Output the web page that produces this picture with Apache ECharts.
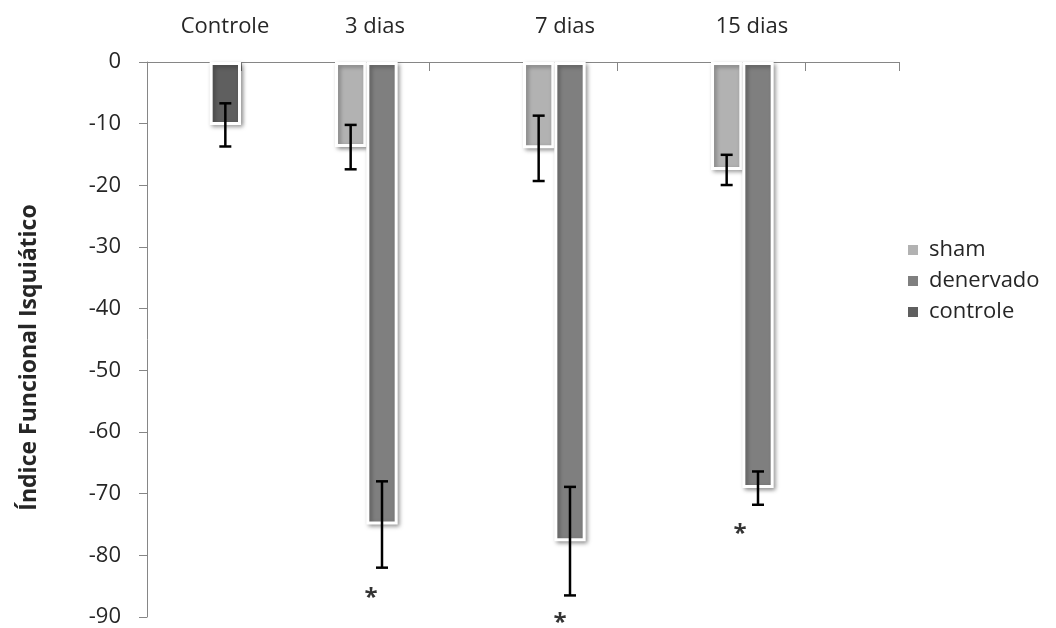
<!DOCTYPE html>
<html>
<head>
<meta charset="utf-8">
<script src="https://cdn.jsdelivr.net/npm/echarts@6/dist/echarts.min.js"></script>
<style>
html,body{margin:0;padding:0;background:#fff;}
#chart{width:1056px;height:628px;}
</style>
</head>
<body>
<div id="chart"></div>
<script>
// ---- data ----
var categories = ['Controle', '', '3 dias', '', '7 dias', '', '15 dias', ''];
var sham        = [null, null, -13.8, null, -14.0, null, -17.5, null];
var shamSD      = [null, null, 3.6, null, 5.3, null, 2.45, null];
var denervado   = [null, null, -75.0, null, -77.7, null, -69.1, null];
var denervadoSD = [null, null, 7.0, null, 8.8, null, 2.7, null];
var controle    = [-10.2, null, null, null, null, null, null, null];
var controleSD  = [3.5, null, null, null, null, null, null, null];
var asteriskY   = [null, null, -86.0, null, -90.0, null, -75.6, null];
var yTicks = [0, -10, -20, -30, -40, -50, -60, -70, -80, -90];

var FONT = 'Open Sans';
var TXT = '#262626';
var AXIS = '#868686';

// label offsets so the category names sit where the reference has them
var labelShift = [31, 0, -7, 0, -5, 0, -6, 0];
var catData = categories.map(function (c, i) {
  var s = labelShift[i];
  return {
    value: c,
    textStyle: { padding: s >= 0 ? [0, 0, 0, 2 * s] : [0, -2 * s, 0, 0] }
  };
});

// error-bar data: [category index, mean, sd, slot]
function errData(vals, sds, slot) {
  var out = [];
  vals.forEach(function (v, i) {
    if (v !== null) out.push([i, v, sds[i], slot]);
  });
  return out;
}
var errAll = errData(sham, shamSD, 0)
  .concat(errData(denervado, denervadoSD, 1))
  .concat(errData(controle, controleSD, 2));

var asteriskOffsetX = [0, 0, -11, 0, -10, 0, -18, 0];
var asteriskData = [];
asteriskY.forEach(function (v, i) {
  if (v !== null) asteriskData.push({ value: [i, v], label: { offset: [asteriskOffsetX[i], 6] } });
});

var barStyle = function (color) {
  return {
    color: color,
    borderColor: '#ffffff',
    borderWidth: 3,
    shadowColor: 'rgba(0,0,0,0.35)',
    shadowBlur: 4,
    shadowOffsetX: 2,
    shadowOffsetY: 2
  };
};

var chart = echarts.init(document.getElementById('chart'), null, { renderer: 'canvas' });
chart.setOption({
  animation: false,
  backgroundColor: '#ffffff',
  textStyle: { fontFamily: FONT },
  grid: { left: 147, right: 157, top: 62, bottom: 10, containLabel: false },
  legend: {
    data: ['sham', 'denervado', 'controle'],
    orient: 'vertical',
    left: 901,
    top: 234,
    icon: 'rect',
    itemWidth: 12,
    itemHeight: 12,
    itemGap: 9,
    textStyle: { fontFamily: FONT, fontSize: 22, color: TXT, padding: [0, 0, 0, 5] }
  },
  xAxis: {
    type: 'category',
    position: 'top',
    data: catData,
    boundaryGap: true,
    axisLine: { show: true, onZero: false, lineStyle: { color: AXIS, width: 1 } },
    axisTick: { show: true, inside: true, length: 9, interval: 0, lineStyle: { color: AXIS } },
    axisLabel: { interval: 0, margin: 24, fontFamily: FONT, fontSize: 22, color: TXT },
    splitLine: { show: false }
  },
  yAxis: {
    type: 'value',
    min: -90,
    max: 0,
    interval: 10,
    axisLine: { show: true, lineStyle: { color: AXIS, width: 1 } },
    axisTick: { show: true, length: 8, lineStyle: { color: AXIS } },
    axisLabel: {
      margin: 26, fontFamily: FONT, fontSize: 22, color: TXT,
      formatter: function (v) { return yTicks.indexOf(v) >= 0 ? String(v) : ''; }
    },
    splitLine: { show: false },
    name: 'Índice Funcional Isquiático',
    nameLocation: 'middle',
    nameRotate: 90,
    nameGap: 106,
    nameTextStyle: { fontFamily: FONT, fontSize: 23, fontWeight: 'bold', color: TXT, padding: [0, 36, 0, 0] }
  },
  series: [
    { name: 'sham', type: 'bar', data: sham, barGap: '0%', barCategoryGap: '0%', itemStyle: barStyle('#b2b2b2'), z: 2 },
    { name: 'denervado', type: 'bar', data: denervado, barGap: '0%', barCategoryGap: '0%', itemStyle: barStyle('#7f7f7f'), z: 2 },
    { name: 'controle', type: 'bar', data: controle, barGap: '0%', barCategoryGap: '0%', itemStyle: barStyle('#5f5f5f'), z: 2 },
    {
      name: 'err', type: 'custom', data: errAll, z: 10, silent: true,
      renderItem: function (params, api) {
        var cat = api.value(0), mean = api.value(1), sd = api.value(2), slot = api.value(3);
        var c = api.coord([cat, mean]);
        var bandW = api.size([1, 0])[0];
        var x = c[0] + (slot - 1) * bandW / 3;
        var yTop = api.coord([cat, mean + sd])[1];
        var yBot = api.coord([cat, mean - sd])[1];
        var hw = 6;
        var st = { stroke: '#000', lineWidth: 2.5 };
        return {
          type: 'group',
          children: [
            { type: 'line', shape: { x1: x, y1: yTop, x2: x, y2: yBot }, style: st },
            { type: 'line', shape: { x1: x - hw, y1: yTop, x2: x + hw, y2: yTop }, style: st },
            { type: 'line', shape: { x1: x - hw, y1: yBot, x2: x + hw, y2: yBot }, style: st }
          ]
        };
      }
    },
    {
      name: 'asterisk', type: 'scatter', data: asteriskData, symbolSize: 0, z: 11, silent: true, clip: false,
      label: { show: true, position: 'inside', formatter: '*', fontFamily: FONT, fontSize: 24, fontWeight: 'bold', color: '#000' }
    }
  ]
});
</script>
</body>
</html>
